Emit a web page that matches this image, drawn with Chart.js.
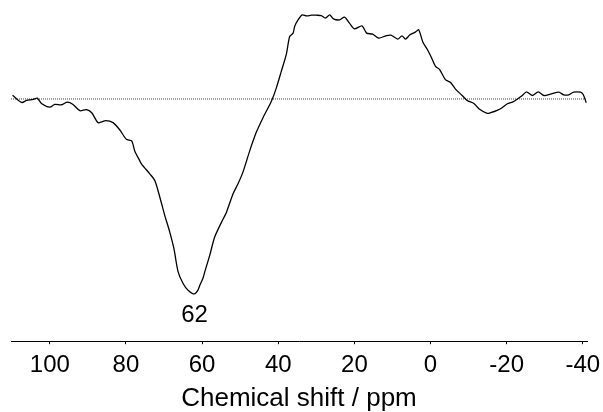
<!DOCTYPE html>
<html>
<head>
<meta charset="utf-8">
<script src="https://cdn.jsdelivr.net/npm/chart.js@4/dist/chart.umd.min.js"></script>
<style>
  html, body { margin: 0; padding: 0; background: #fff; }
  #wrap { width: 603px; height: 412px; }
</style>
</head>
<body>
<div id="wrap"><canvas id="spectrum"></canvas></div>
<script>
// chemical shift (ppm), high to low
const shiftPpm = [
  109.8, 107.4, 106.1, 104.4, 103.3, 102.2, 100.0, 98.7, 96.9, 95.4,
  93.9, 92.1, 90.4, 89.0, 87.3, 85.3, 83.4, 81.6, 79.9, 78.5,
  77.7, 76.4, 75.9, 73.7, 72.4, 71.1, 69.8, 68.5, 67.4, 66.3,
  65.0, 63.7, 62.0, 61.1, 60.6, 59.8, 59.3, 58.0, 56.7, 54.9,
  53.6, 51.9, 50.6, 49.3, 47.5, 45.8, 44.0, 41.8, 40.5, 39.2,
  37.9, 37.0, 36.1, 35.7, 34.8, 33.7, 32.6, 31.3, 30.0, 28.7,
  27.6, 26.5, 25.5, 23.9, 22.6, 21.3, 20.0, 18.0, 16.8, 15.2,
  13.6, 11.7, 10.4, 8.6, 7.5, 6.6, 5.4, 4.0, 3.1, 2.0,
  0.8, -0.2, -1.3, -2.4, -3.9, -5.2, -6.5, -8.3, -9.6, -11.4,
  -12.7, -14.9, -15.8, -17.5, -18.8, -20.2, -21.5, -22.9, -24.1, -25.2,
  -26.7, -28.3, -29.8, -31.5, -33.7, -35.0, -36.3, -37.6, -39.4, -40.1,
  -40.9
];

// signal intensity (a.u.), 0 = baseline
const intensity = [
  3.8, -3.5, -1.5, -0.5, 0.8, -4.5, -8.2, -5.5, -5.8, -3.2,
  -5.5, -11.8, -10.8, -13.8, -23.8, -21.8, -23.8, -31.2, -40.5, -42.2,
  -52.2, -62.0, -65.5, -75.5, -82.2, -98.8, -117.2, -133.8, -150.5, -173.8,
  -185.5, -192.2, -196.0, -192.2, -187.2, -180.5, -173.8, -157.2, -138.8, -123.8,
  -113.8, -95.5, -85.5, -73.8, -52.2, -33.8, -18.8, -2.2, 11.2, 27.8,
  44.5, 62.8, 66.2, 72.8, 79.5, 84.5, 83.5, 84.2, 84.2, 83.8,
  81.2, 84.5, 80.5, 79.5, 82.2, 76.2, 70.5, 73.5, 66.2, 65.2,
  61.2, 63.5, 64.2, 60.2, 63.5, 60.2, 64.5, 67.2, 69.5, 57.0,
  49.5, 42.0, 32.8, 29.5, 19.5, 16.8, 10.2, 3.5, -1.5, -4.5,
  -9.8, -14.5, -13.8, -11.5, -8.8, -4.8, -3.2, 0.2, 3.5, 7.2,
  3.5, 7.2, 3.5, 4.8, 6.8, 4.2, 4.2, 6.8, 6.8, 4.5,
  -3.8
];

const xMin = -41.1;
const xMax = 110.2;
const xTicks = [100, 80, 60, 40, 20, 0, -20, -40];
const peakLabel = '62';
const axisTitle = 'Chemical shift / ppm';

const FONT = '"Liberation Sans", Arial, sans-serif';

const points = shiftPpm.map((x, i) => ({ x: x, y: intensity[i] }));

// text under the main peak
const peakText = {
  id: 'peakText',
  afterDatasetsDraw(chart) {
    const xs = chart.scales.x;
    const ys = chart.scales.y;
    let iMin = 0;
    for (let i = 1; i < intensity.length; i++) {
      if (intensity[i] < intensity[iMin]) iMin = i;
    }
    const ctx = chart.ctx;
    ctx.save();
    ctx.font = '24px ' + FONT;
    ctx.fillStyle = '#000';
    ctx.textAlign = 'center';
    ctx.textBaseline = 'middle';
    ctx.fillText(peakLabel, xs.getPixelForValue(Number(peakLabel)), ys.getPixelForValue(intensity[iMin]) + 21);
    ctx.restore();
  }
};

new Chart(document.getElementById('spectrum'), {
  type: 'scatter',
  data: {
    datasets: [
      {
        data: points,
        showLine: true,
        borderColor: '#000',
        borderWidth: 1.3,
        pointRadius: 0,
        tension: 0.25
      },
      {
        data: [{ x: xMax, y: 0 }, { x: xMin, y: 0 }],
        showLine: true,
        borderColor: '#444',
        borderWidth: 1,
        borderDash: [1, 1],
        pointRadius: 0
      }
    ]
  },
  options: {
    responsive: true,
    maintainAspectRatio: false,
    animation: false,
    layout: { padding: { left: 11, right: 16, top: 0, bottom: 0 } },
    plugins: {
      legend: { display: false },
      tooltip: { enabled: false }
    },
    scales: {
      x: {
        type: 'linear',
        reverse: true,
        min: xMin,
        max: xMax,
        afterBuildTicks(axis) {
          axis.ticks = xTicks.map(v => ({ value: v }));
        },
        // labels may hang over the edges, keep the plot width fixed
        afterFit(axis) {
          axis.paddingLeft = 0;
          axis.paddingRight = 0;
        },
        grid: { display: true, drawOnChartArea: false, drawTicks: true, tickLength: 3, color: '#000' },
        border: { display: true, color: '#000', width: 1 },
        ticks: {
          color: '#000',
          padding: 7,
          font: { family: FONT, size: 24 },
          maxRotation: 0
        },
        title: {
          display: true,
          text: axisTitle,
          color: '#000',
          font: { family: FONT, size: 26, lineHeight: 1 },
          padding: { top: -1, bottom: 0 }
        }
      },
      y: {
        display: false,
        min: -243.5,
        max: 99.5
      }
    }
  },
  plugins: [peakText]
});
</script>
</body>
</html>
